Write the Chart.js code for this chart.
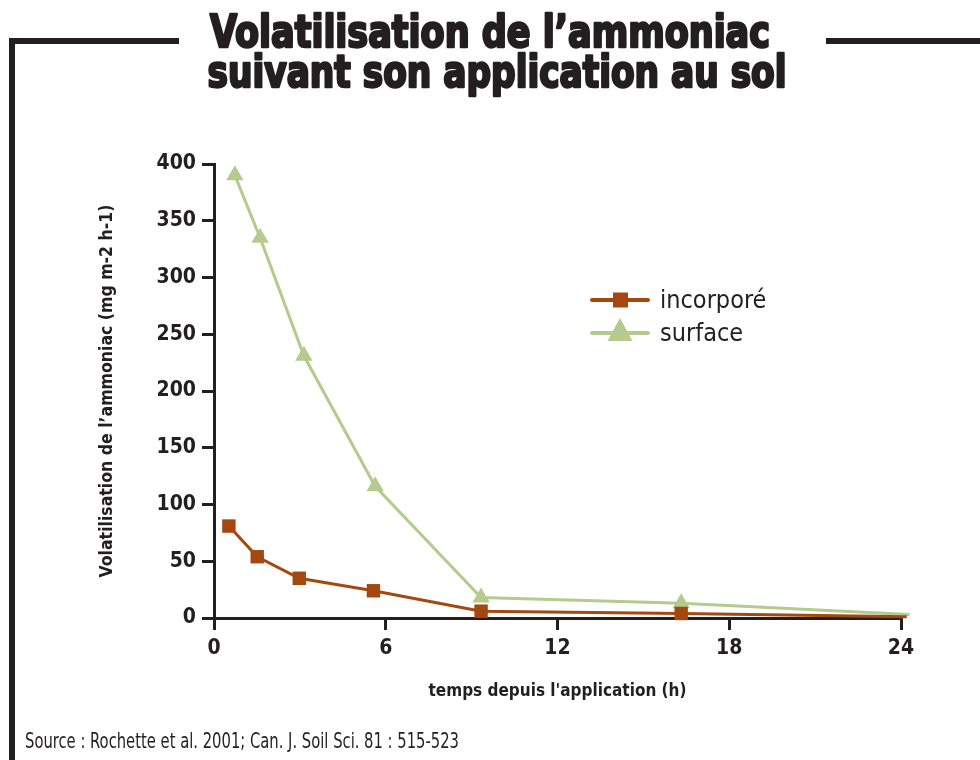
<!DOCTYPE html>
<html lang="fr">
<head>
<meta charset="utf-8">
<title>Volatilisation de l'ammoniac</title>
<script src="https://cdn.jsdelivr.net/npm/chart.js@4/dist/chart.umd.min.js"></script>
<style>
  html, body { margin: 0; padding: 0; background: #fff; }
  #chart { display: block; }
</style>
</head>
<body>
<canvas id="chart" width="980" height="760"></canvas>
<script>
// heures apres application
const hoursIncorpore = [0.52, 1.51, 2.98, 5.57, 9.33, 16.32, 24.2];
const incorpore = [81, 54, 35, 24, 6, 4, 1];
const hoursSurface = [0.73, 1.61, 3.14, 5.63, 9.33, 16.32, 24.3];
const surface = [390, 335, 231, 116, 18, 13, 3];

const xTicks = [0, 6, 12, 18, 24];
const yTicks = [0, 50, 100, 150, 200, 250, 300, 350, 400];

const titleLines = ['Volatilisation de l\u2019ammoniac', 'suivant son application au sol'];
const sourceText = 'Source : Rochette et al. 2001; Can. J. Soil Sci. 81 : 515-523';

const INK = '#231f20';
const BROWN = '#a5480f';
const GREEN = '#b4cb8d';
const FONT = '"Liberation Sans Narrow", "DejaVu Sans Condensed", "Roboto Condensed", sans-serif';

const toPoints = (xs, ys) => xs.map((x, i) => ({ x: x, y: ys[i] }));

// cadre, titre, legende et source
const decorPlugin = {
    id: 'decor',
    afterDraw(chart) {
        const ctx = chart.ctx;
        ctx.save();
        ctx.fillStyle = INK;
        ctx.fillRect(9, 38, 170, 6);
        ctx.fillRect(9, 38, 6, 722);
        ctx.fillRect(826, 38, 154, 6);

        // titre etire a la largeur de l'original
        const fitText = (text, cx, baseline, width, font, stroke) => {
            ctx.font = font;
            const w = ctx.measureText(text).width;
            ctx.save();
            ctx.translate(cx, baseline);
            ctx.scale(width / w, 1);
            ctx.textAlign = 'center';
            ctx.textBaseline = 'alphabetic';
            ctx.fillText(text, 0, 0);
            if (stroke) {
                ctx.lineWidth = stroke;
                ctx.strokeStyle = INK;
                ctx.lineJoin = 'round';
                ctx.strokeText(text, 0, 0);
            }
            ctx.restore();
        };
        fitText(titleLines[0], 490, 47, 560, 'bold 45px ' + FONT, 2.5);
        fitText(titleLines[1], 497, 87, 579, 'bold 45px ' + FONT, 2.5);

        // legende
        const rows = [
            { ds: chart.data.datasets[0], y: 300 },
            { ds: chart.data.datasets[1], y: 333 }
        ];
        rows.forEach(r => {
            ctx.strokeStyle = r.ds.borderColor;
            ctx.lineWidth = 4;
            ctx.lineCap = 'round';
            ctx.beginPath();
            ctx.moveTo(592, r.y);
            ctx.lineTo(648, r.y);
            ctx.stroke();
            ctx.fillStyle = r.ds.borderColor;
            if (r.ds.pointStyle === 'rect') {
                ctx.fillRect(613, r.y - 7.5, 15, 15);
            } else {
                ctx.beginPath();
                ctx.moveTo(620, r.y - 15);
                ctx.lineTo(632.5, r.y + 8);
                ctx.lineTo(607.5, r.y + 8);
                ctx.closePath();
                ctx.fill();
            }
            ctx.fillStyle = INK;
            ctx.font = '25px ' + FONT;
            ctx.textAlign = 'left';
            ctx.textBaseline = 'alphabetic';
            ctx.fillText(r.ds.label, 660, r.y + 8);
        });

        // source
        fitText(sourceText, (25 + 459) / 2, 748, 434, '21px ' + FONT, 0);
        ctx.restore();
    }
};

new Chart(document.getElementById('chart'), {
    type: 'line',
    data: {
        datasets: [
            {
                label: 'incorporé',
                data: toPoints(hoursIncorpore, incorpore),
                borderColor: BROWN,
                backgroundColor: BROWN,
                borderWidth: 3,
                pointStyle: 'rect',
                pointRadius: [9.5, 9.5, 9.5, 9.5, 9.5, 9.5, 0],
                pointBorderWidth: 0,
                tension: 0,
                clip: false
            },
            {
                label: 'surface',
                data: toPoints(hoursSurface, surface),
                borderColor: GREEN,
                backgroundColor: GREEN,
                borderWidth: 3,
                pointStyle: 'triangle',
                pointRadius: [10, 10, 10, 10, 10, 10, 0],
                pointBorderWidth: 0,
                tension: 0,
                clip: false
            }
        ]
    },
    options: {
        responsive: false,
        animation: false,
        layout: { padding: { left: 97, top: 164, right: 79, bottom: 30 } },
        plugins: {
            legend: { display: false },
            tooltip: { enabled: false }
        },
        scales: {
            x: {
                type: 'linear',
                min: 0,
                max: 24,
                afterFit: scale => { scale.height = 112; },
                afterBuildTicks: scale => { scale.ticks = xTicks.map(v => ({ value: v })); },
                border: { color: INK, width: 3 },
                grid: { drawOnChartArea: false, color: INK, lineWidth: 3, tickLength: 12 },
                ticks: { color: INK, padding: 6, font: { family: FONT, size: 21, weight: 'bold' } },
                title: {
                    display: true,
                    text: 'temps depuis l\'application (h)',
                    color: INK,
                    padding: { top: 0, bottom: 28 },
                    font: { family: FONT, size: 17, weight: 'bold' }
                }
            },
            y: {
                min: 0,
                max: 400,
                afterFit: scale => { scale.width = 117; },
                afterBuildTicks: scale => { scale.ticks = yTicks.map(v => ({ value: v })); },
                border: { color: INK, width: 3 },
                grid: { drawOnChartArea: false, color: INK, lineWidth: 3, tickLength: 12 },
                ticks: { color: INK, padding: 6, font: { family: FONT, size: 21, weight: 'bold' } },
                title: {
                    display: true,
                    text: 'Volatilisation de l\u2019ammoniac (mg m-2 h-1)',
                    color: INK,
                    padding: 0,
                    font: { family: FONT, size: 17.5, weight: 'bold' }
                }
            }
        }
    },
    plugins: [decorPlugin]
});
</script>
</body>
</html>
